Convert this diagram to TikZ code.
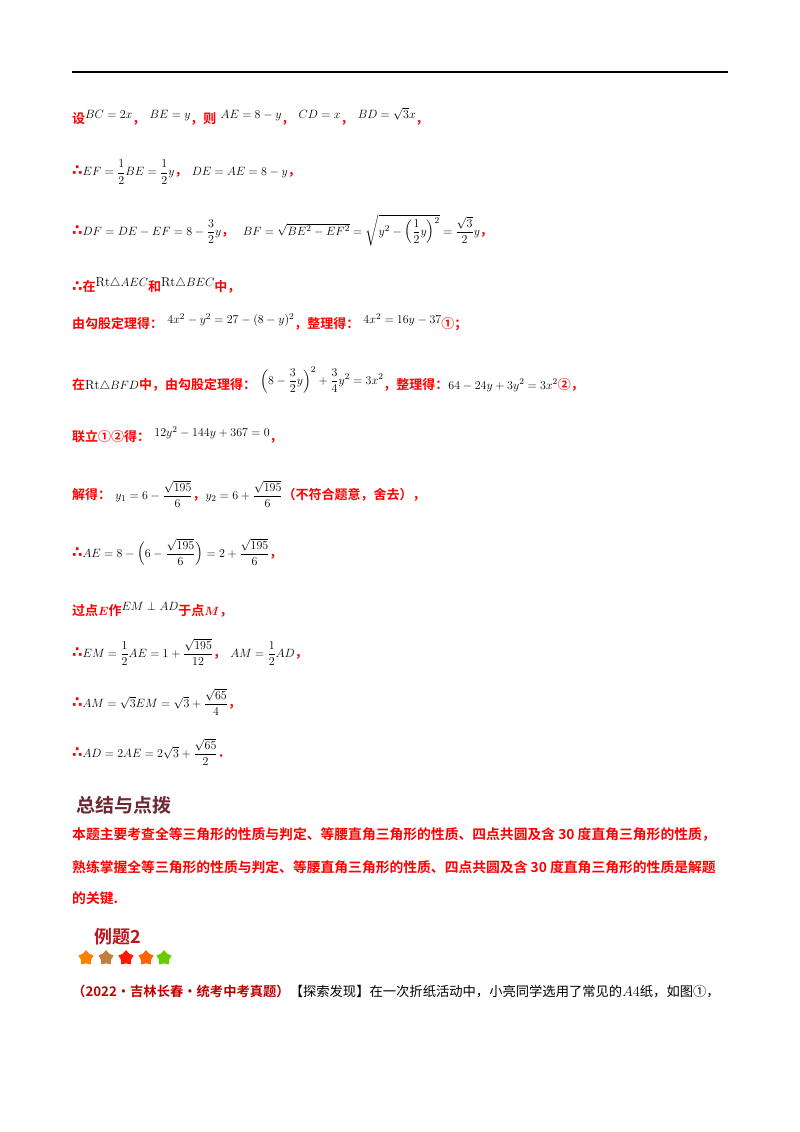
\documentclass[tikz,border=0pt]{standalone}
\usetikzlibrary{shapes.geometric}
\usepackage{amsmath,amssymb}
\usepackage{fontspec}
\newfontfamily\cjk{Noto Sans CJK SC}[BoldFont={Noto Sans CJK SC Bold}]
\newfontfamily\cjks{Noto Sans CJK SC}
\newfontfamily\dvs{DejaVu Sans}[BoldFont={DejaVu Sans Bold}]
\begin{document}
\begin{tikzpicture}[x=1pt,y=-1pt,
 ln/.style={anchor=west,inner sep=0pt,font=\fontsize{13}{15}\selectfont},
]
\newcommand{\R}[1]{\textcolor{red}{\cjk\bfseries #1}}
\newcommand{\T}{\textcolor{red}{\dvs\bfseries\fontsize{15}{15}\selectfont ∴}}
\newcommand{\U}[1]{\raisebox{5pt}{$#1$}}
\useasboundingbox (0,0) rectangle (800,1132);
\fill[white] (0,0) rectangle (800,1132);
\draw[line width=1.2pt] (72,72) -- (728,72);
\node[ln] (l1) at (72,116) {\R{设}\U{BC=2x}\R{，}\ \U{BE=y}\R{，则}\ \U{AE=8-y}\R{，}\ \U{CD=x}\R{，}\ \U{BD=\sqrt3 x}\R{，}};
\node[ln] (l2) at (72,172) {\T$EF=\dfrac12 BE=\dfrac12 y$\R{，}\ $DE=AE=8-y$\R{，}};
\node[ln] (l3) at (72,230) {\T$DF=DE-EF=8-\dfrac32 y$\R{，}\ \ $BF=\sqrt{BE^2-EF^2}=\sqrt{y^2-\Bigl(\dfrac12 y\Bigr)^2}=\dfrac{\sqrt3}{2}y$\R{，}};
\node[ln] (l4) at (72,285) {\T\R{在}\U{\mathrm{Rt}\triangle AEC}\R{和}\U{\mathrm{Rt}\triangle BEC}\R{中，}};
\node[ln] (l5) at (72,322) {\R{由勾股定理得：}\ \U{4x^2-y^2=27-(8-y)^2}\R{，整理得：}\ \U{4x^2=16y-37}\R{①；}};
\node[ln] (l6) at (72,380) {\R{在}$\mathrm{Rt}\triangle BFD$\R{中，由勾股定理得：}\ \U{\Bigl(8-\dfrac32 y\Bigr)^2+\dfrac34 y^2=3x^2}\R{，整理得：}$64-24y+3y^2=3x^2$\R{②，}};
\node[ln] (l7) at (72,435) {\R{联立①②得：}\ \U{12y^2-144y+367=0}\R{，}};
\node[ln] (l8) at (72,494) {\R{解得：}\ $y_1=6-\dfrac{\sqrt{195}}{6}$\R{，}$y_2=6+\dfrac{\sqrt{195}}{6}$\R{（不符合题意，舍去），}};
\node[ln] (l9) at (72,552) {\T$AE=8-\Bigl(6-\dfrac{\sqrt{195}}{6}\Bigr)=2+\dfrac{\sqrt{195}}{6}$\R{，}};
\node[ln] (l10) at (72,610) {\R{过点}\textcolor{red}{$\boldsymbol{E}$}\R{作}\U{EM\perp AD}\R{于点}\textcolor{red}{$\boldsymbol{M}$}\R{，}};
\node[ln] (l11) at (72,652) {\T$EM=\dfrac12 AE=1+\dfrac{\sqrt{195}}{12}$\R{，}\ $AM=\dfrac12 AD$\R{，}};
\node[ln] (l12) at (72,702) {\T$AM=\sqrt3 EM=\sqrt3+\dfrac{\sqrt{65}}{4}$\R{，}};
\node[ln] (l13) at (72,752) {\T$AD=2AE=2\sqrt3+\dfrac{\sqrt{65}}{2}$\R{．}};
\node[anchor=west,inner sep=0pt,font=\cjk\bfseries\fontsize{19}{21}\selectfont,text={rgb,255:red,110;green,40;blue,50}] (t1) at (76,805) {总结与点拨};
\node[ln,font=\fontsize{13.8}{15}\selectfont] (p1) at (72,835) {\R{本题主要考查全等三角形的性质与判定、等腰直角三角形的性质、四点共圆及含 30 度直角三角形的性质，}};
\node[ln,font=\fontsize{13.8}{15}\selectfont] (p2) at (72,867) {\R{熟练掌握全等三角形的性质与判定、等腰直角三角形的性质、四点共圆及含 30 度直角三角形的性质是解题}};
\node[ln,font=\fontsize{13.8}{15}\selectfont] (p3) at (72,898) {\R{的关键.}};
\node[anchor=west,inner sep=0pt,font=\cjk\bfseries\fontsize{18}{20}\selectfont,text={rgb,255:red,190;green,20;blue,30}] (t2) at (94,937) {例题2};
\foreach \xx/\cc in {86/orange,106/brown,126/red!80!orange,146/orange!80!red,164/green!60!orange}
  \node[star,star points=5,fill=\cc,inner sep=0pt,minimum size=16pt] at (\xx,958) {};
\node[ln,font=\fontsize{13.3}{15}\selectfont] (q) at (72,991) {\textcolor{red!75!black}{\cjk\bfseries（2022·吉林长春·统考中考真题）}{\cjks【探索发现】在一次折纸活动中，小亮同学选用了常见的}$A4${\cjks 纸，如图①，}};
\end{tikzpicture}
\end{document}
